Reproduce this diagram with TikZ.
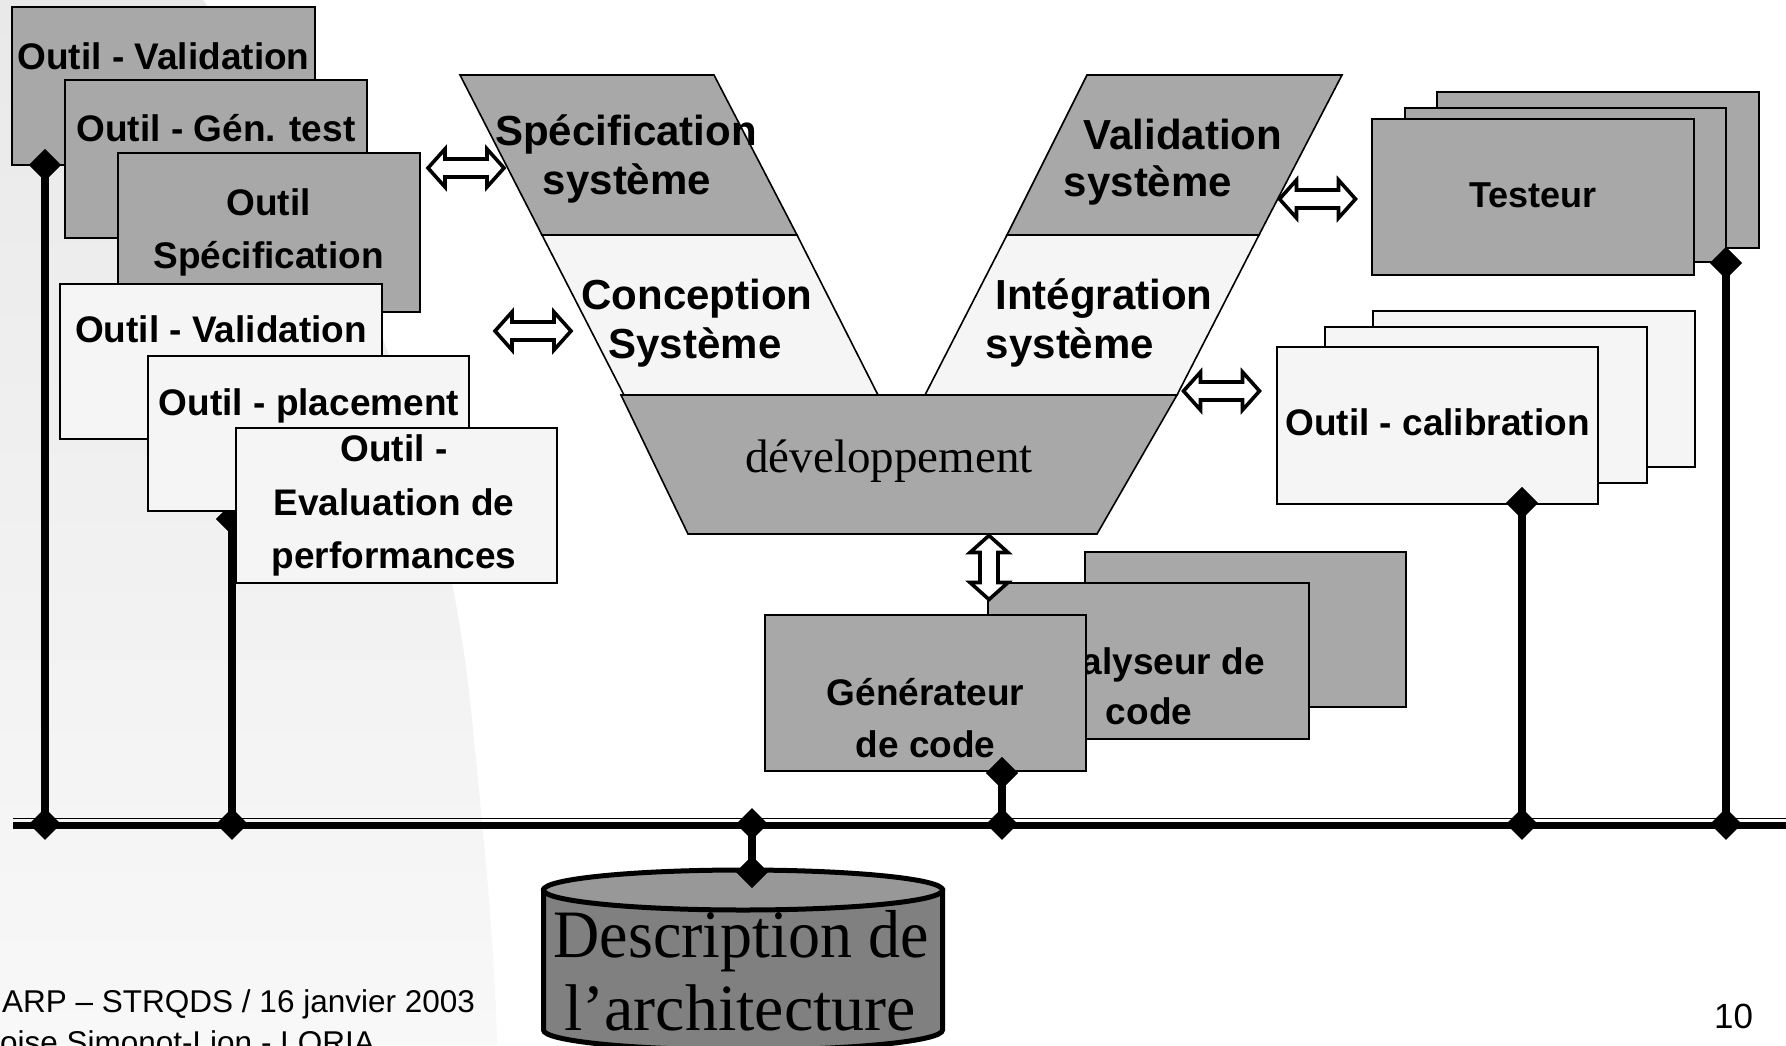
\documentclass[tikz,border=0pt]{standalone}
\usepackage{fontspec}
\setmainfont{Liberation Serif}
\setsansfont{Liberation Sans}
\usetikzlibrary{shapes.geometric,calc}

\definecolor{toolgrey}{RGB}{168,168,168}
\definecolor{toolpale}{RGB}{245,245,245}
\definecolor{dbbody}{RGB}{128,128,128}
\definecolor{dbtop}{RGB}{152,152,152}
\definecolor{slidetop}{RGB}{233,233,233}
\definecolor{slidebot}{RGB}{248,248,248}

\begin{document}
\begin{tikzpicture}[x=1pt,y=-1pt,
  toolbox/.style={draw=black, line width=2.2pt, inner sep=0pt, outer sep=0pt,
                  minimum width=321pt, minimum height=155pt},
  darkbox/.style={toolbox, fill=toolgrey},
  palebox/.style={toolbox, fill=toolpale},
  phase/.style={draw=black, line width=1.6pt, line join=miter},
  boxtext/.style={inner sep=0pt, anchor=base, font=\fontsize{37}{40}\selectfont\sffamily\bfseries},
  phasetext/.style={inner sep=0pt, anchor=base, font=\fontsize{42}{46}\selectfont\sffamily\bfseries},
  foottext/.style={inner sep=0pt, font=\fontsize{31.5}{34}\selectfont\sffamily},
  bar/.style={line width=8pt},
  joint/.style={diamond, fill=black, inner sep=0pt, minimum width=32pt, minimum height=32pt},
  pics/dblarrow/.style={code={
    \filldraw[fill=white, draw=black, line width=3.6pt]
      (-#1,0) -- (-#1+17,-19) -- (-#1+17,-9) -- (#1-17,-9) -- (#1-17,-19) -- (#1,0)
      -- (#1-17,19) -- (#1-17,9) -- (-#1+17,9) -- (-#1+17,19) -- cycle;}},
]
\useasboundingbox (0,0) rectangle (1786,1045);
\clip (0,0) rectangle (1786,1045);

% slide background
\fill[white] (0,0) rectangle (1786,1045);
\shade[top color=slidetop, bottom color=slidebot]
  (0,0) -- (203,0) .. controls (330,170) and (440,430) .. (470,700)
  .. controls (485,850) and (495,950) .. (497,1045) -- (0,1045) -- cycle;

% bus joint positions
\path (45,824) coordinate (k1pos) (232,824) coordinate (k2pos) (752,824) coordinate (k3pos)
      (1002,824) coordinate (k4pos) (1522,824) coordinate (k5pos) (1726,824) coordinate (k6pos);

% link of the placement tool, partly hidden by the boxes
\node[joint] (jB5) at (232,519) {};
\draw[bar] (jB5.center) -- (k2pos);
\node[joint] at (jB5) {};

% left tool stack
\node[darkbox, minimum width=303pt, minimum height=158pt] (B1) at (163.5,86) {};
\node[boxtext] (tB1) at (163.5,69) {Outil - Validation};
\node[darkbox, minimum width=302pt, minimum height=158pt] (B2) at (216,159) {};
\node[boxtext] (tB2) at (216,141) {Outil - Gén. test};
\node[darkbox, minimum width=302pt, minimum height=159pt] (B3) at (269,232.5) {};
\node[boxtext] (tB3a) at (268.5,215) {Outil};
\node[boxtext] (tB3b) at (268.5,268) {Spécification};
\node[palebox, minimum width=322pt] (B4) at (221,361.5) {};
\node[boxtext] (tB4) at (221,342) {Outil - Validation};
\node[palebox] (B5) at (308.5,433.5) {};
\node[boxtext] (tB5) at (309,415) {Outil - placement};
\node[palebox] (B6) at (396.5,505.5) {};
\node[boxtext] (tB6a) at (394,461) {Outil -};
\node[boxtext] (tB6b) at (394,515) {Evaluation de};
\node[boxtext] (tB6c) at (394,568) {performances};

% V cycle
\filldraw[phase, fill=toolgrey] (460,75) -- (714,75) -- (797,235) -- (542,235) -- cycle;
\filldraw[phase, fill=toolpale] (542,235) -- (797,235) -- (878,395) -- (624,395) -- cycle;
\filldraw[phase, fill=toolgrey] (621,395) -- (1177,395) -- (1097,534) -- (688,534) -- cycle;
\filldraw[phase, fill=toolpale] (925,395) -- (1177,395) -- (1259,235) -- (1007,235) -- cycle;
\filldraw[phase, fill=toolgrey] (1007,235) -- (1259,235) -- (1342,75) -- (1087,75) -- cycle;

\node[phasetext] (spec1) at (626,145) {Spécification};
\node[phasetext] (spec2) at (627,194) {système};
\node[phasetext] (conc1) at (697,309) {Conception};
\node[phasetext] (conc2) at (695,358) {Système};
\node[phasetext] (vali1) at (1183,149) {Validation};
\node[phasetext] (vali2) at (1148,196) {système};
\node[phasetext] (inte1) at (1104,309) {Intégration};
\node[phasetext] (inte2) at (1070,358) {système};
\node[inner sep=0pt, anchor=base, font=\fontsize{47}{50}\selectfont\rmfamily] (dev) at (889,472) {développement};

% tester stack
\node[darkbox, minimum width=322pt, minimum height=156pt] (T3) at (1598,170) {};
\node[darkbox, minimum height=154pt] (T2) at (1565.5,185) {};
\node[darkbox, minimum width=322pt, minimum height=156pt] (T1) at (1533,197) {};
\node[inner sep=0pt, anchor=base, font=\fontsize{36}{40}\selectfont\sffamily\bfseries] (tT) at (1533,207) {Testeur};

% calibration stack
\node[palebox, minimum width=322pt, minimum height=156pt] (C3) at (1534,389) {};
\node[palebox, minimum width=322pt, minimum height=156pt] (C2) at (1486,405) {};
\node[palebox, minimum height=157pt] (C1) at (1437.5,425.5) {};
\node[boxtext] (tC) at (1437.5,435) {Outil - calibration};

% code tools stack
\node[darkbox, line width=1.8pt] (A3) at (1245.5,629.5) {};
\node[darkbox, line width=1.8pt, minimum height=156pt] (A2) at (1148.5,661) {};
\node[boxtext] (tA2a) at (1148.5,674) {Analyseur de};
\node[boxtext] (tA2b) at (1149,724) {code};
\node[darkbox, line width=1.8pt, minimum height=156pt] (A1) at (925.5,693) {};
\node[boxtext] (tA1a) at (925.5,705) {Générateur};
\node[boxtext] (tA1b) at (925.5,757) {de code};

% exchange arrows
\pic (arrSpec) at (466,168) {dblarrow=38};
\pic (arrConc) at (533,331) {dblarrow=38};
\pic (arrVali) at (1317.5,199) {dblarrow=38};
\pic (arrInte) at (1221.5,391) {dblarrow=38};
\pic[rotate=90] (arrDev) at (989,567.5) {dblarrow=32};

% architecture repository
\filldraw[fill=dbbody, draw=black, line width=5pt]
  (543.5,890) -- (543.5,1030) arc[start angle=180, end angle=0, x radius=199.5, y radius=20]
  -- (942.5,890) -- cycle;
\node[inner sep=0pt, anchor=base, font=\fontsize{64}{70}\selectfont\rmfamily] (db1) at (741,957) {\scalebox{1}[1.06]{Description de}};
\node[inner sep=0pt, anchor=base, font=\fontsize{66}{70}\selectfont\rmfamily] (db2) at (740,1030) {l’architecture};
\filldraw[fill=dbtop, draw=black, line width=5pt] (743,890) ellipse[x radius=199.5, y radius=20];

% communication bus
\coordinate (busL) at (13,825.5);
\coordinate (busR) at (1786,825.5);
\draw[line width=7pt] (busL) -- (busR);
\draw[line width=1.6pt] ([yshift=7pt]busL) -- ([yshift=7pt]busR);

% tool links to the bus
\node[joint] (jB1) at (45,165) {};
\node[joint] (jT) at (1726,263) {};
\node[joint] (jC) at (1522,503) {};
\node[joint] (jG) at (1002,773) {};
\node[joint] (jDB) at (752,872) {};
\draw[bar] (jB1.center) -- (k1pos);
\draw[bar] (jT.center) -- (k6pos);
\draw[bar] (jC.center) -- (k5pos);
\draw[bar] (jG.center) -- (k4pos);
\draw[bar] (jDB.center) -- (k3pos);
\node[joint] at (jB1) {};
\node[joint] at (jT) {};
\node[joint] at (jC) {};
\node[joint] at (jG) {};
\node[joint] at (jDB) {};
\node[joint] (k1) at (k1pos) {};
\node[joint] (k2) at (k2pos) {};
\node[joint] (k3) at (k3pos) {};
\node[joint] (k4) at (k4pos) {};
\node[joint] (k5) at (k5pos) {};
\node[joint] (k6) at (k6pos) {};

% footer
\node[foottext, anchor=base west] (foot1) at (2,1012) {ARP – STRQDS / 16 janvier 2003};
\node[foottext, anchor=base west] (foot2) at (0,1053) {oise Simonot-Lion - LORIA};
\node[inner sep=0pt, anchor=base, font=\fontsize{35}{38}\selectfont\sffamily] (page) at (1733.5,1028) {10};
\end{tikzpicture}
\end{document}
